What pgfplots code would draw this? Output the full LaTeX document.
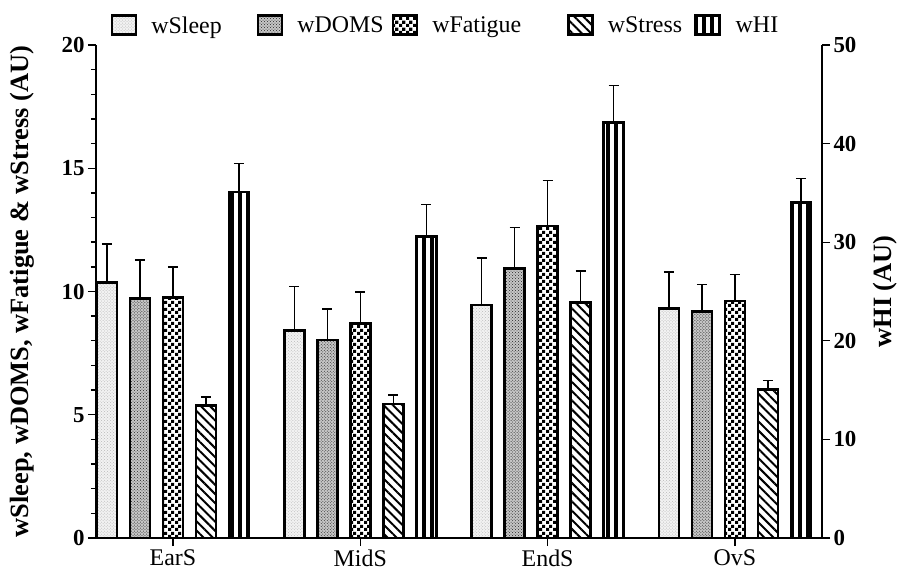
\documentclass[border=0pt]{standalone}
\usepackage{fontspec}
\setmainfont{Liberation Serif}
\usepackage{pgfplots}
\pgfplotsset{compat=1.18}
\usetikzlibrary{patterns,patterns.meta}

\pgfdeclarepatternformonly{bigcheck}{\pgfpointorigin}{\pgfqpoint{7bp}{7bp}}{\pgfqpoint{7bp}{7bp}}{%
  \pgfpathrectangle{\pgfpointorigin}{\pgfqpoint{3.5bp}{3.5bp}}%
  \pgfpathrectangle{\pgfqpoint{3.5bp}{3.5bp}}{\pgfqpoint{3.5bp}{3.5bp}}%
  \pgfusepath{fill}}

\tikzset{
  sSleep/.style={draw=black, line width=2.6pt, preaction={fill=gray!10}, pattern=crosshatch dots, pattern color=gray!55},
  sDOMS/.style={draw=black, line width=2.6pt, preaction={fill=gray!45}, pattern=crosshatch dots, pattern color=black!85},
  sFat/.style={draw=black, line width=2.6pt, preaction={fill=white}, pattern=bigcheck, pattern color=black},
  sStress/.style={draw=black, line width=2.6pt, preaction={fill=white}, pattern={Lines[angle=-45,distance=6.5bp,line width=2bp]}, pattern color=black},
  sHI/.style={draw=black, line width=2.6pt, preaction={fill=white}, pattern={Lines[angle=90,distance=8bp,line width=4.5bp]}, pattern color=black},
}

\pgfplotsset{
  common/.style={
    width=726bp, height=493bp, scale only axis,
    at={(96bp,35bp)}, anchor=south west,
    xmin=-0.411, xmax=3.465,
    ybar, bar width=20bp,
    axis line style={line width=1.5pt},
    tick style={line width=1.4pt, black},
    tick align=outside,
    major tick length=8bp, minor tick length=5bp,
    /pgf/number format/assume math mode=true,
    ticklabel style={font=\fontsize{23}{26}\selectfont\bfseries},
    error bars/y dir=plus, error bars/y explicit,
    error bars/error bar style={line width=1.5pt, black, solid},
    error bars/error mark options={rotate=90, mark size=5bp, line width=1.5pt, black},
    legend image code/.code={\draw[##1] (0bp,-9bp) rectangle (24bp,10bp);},
  },
}

\begin{document}
\begin{tikzpicture}
\path[use as bounding box] (0,0) rectangle (904bp,573bp);
\begin{axis}[common,
  axis y line*=left, axis x line*=bottom,
  ymin=0, ymax=20, ytick={0,5,10,15,20}, minor y tick num=4,
  xtick={0,1,2,3}, xticklabels={EarS,MidS,EndS,OvS},
  xticklabel style={font=\fontsize{24}{26}\selectfont\mdseries},
  ylabel={wSleep, wDOMS, wFatigue \& wStress (AU)},
  every axis y label/.style={at={(axis description cs:-0.102,0.5)}, rotate=90, anchor=center, font=\fontsize{26.5}{30}\selectfont\bfseries},
  legend columns=5,
  legend style={at={(axis description cs:0.48,1)}, anchor=south, yshift=6bp, draw=none, fill=none,
    font=\fontsize{24}{28}\selectfont,
    nodes={inner xsep=0bp, inner ysep=2bp},
    /tikz/every odd column/.append style={column sep=14bp},
    /tikz/column 2/.append style={column sep=35bp},
    /tikz/column 4/.append style={column sep=8bp},
    /tikz/column 6/.append style={column sep=46bp},
    /tikz/column 8/.append style={column sep=11bp}},
]
\addplot[sSleep, bar shift=-66bp] coordinates {(0,10.36) +- (0,1.57) (1,8.41) +- (0,1.79) (2,9.45) +- (0,1.90) (3,9.30) +- (0,1.49)};
\addplot[sDOMS, bar shift=-33bp] coordinates {(0,9.72) +- (0,1.56) (1,8.03) +- (0,1.25) (2,10.94) +- (0,1.66) (3,9.20) +- (0,1.09)};
\addplot[sFat, bar shift=0bp] coordinates {(0,9.76) +- (0,1.24) (1,8.71) +- (0,1.26) (2,12.66) +- (0,1.84) (3,9.61) +- (0,1.07)};
\addplot[sStress, bar shift=33bp] coordinates {(0,5.37) +- (0,0.34) (1,5.44) +- (0,0.36) (2,9.56) +- (0,1.28) (3,6.03) +- (0,0.35)};
\addlegendimage{sHI}
\legend{wSleep,wDOMS,wFatigue,wStress,wHI}
\end{axis}
\begin{axis}[common,
  axis y line*=right, axis x line=none,
  ymin=0, ymax=50, ytick={0,10,20,30,40,50},
  ylabel={wHI (AU)},
  every axis y label/.style={at={(axis description cs:1.087,0.5)}, rotate=90, anchor=center, font=\fontsize{26.5}{30}\selectfont\bfseries},
]
\addplot[sHI, bar shift=66bp] coordinates {(0,35.1) +- (0,2.9) (1,30.56) +- (0,3.28) (2,42.12) +- (0,3.75) (3,34.05) +- (0,2.43)};
\end{axis}
\end{tikzpicture}
\end{document}
